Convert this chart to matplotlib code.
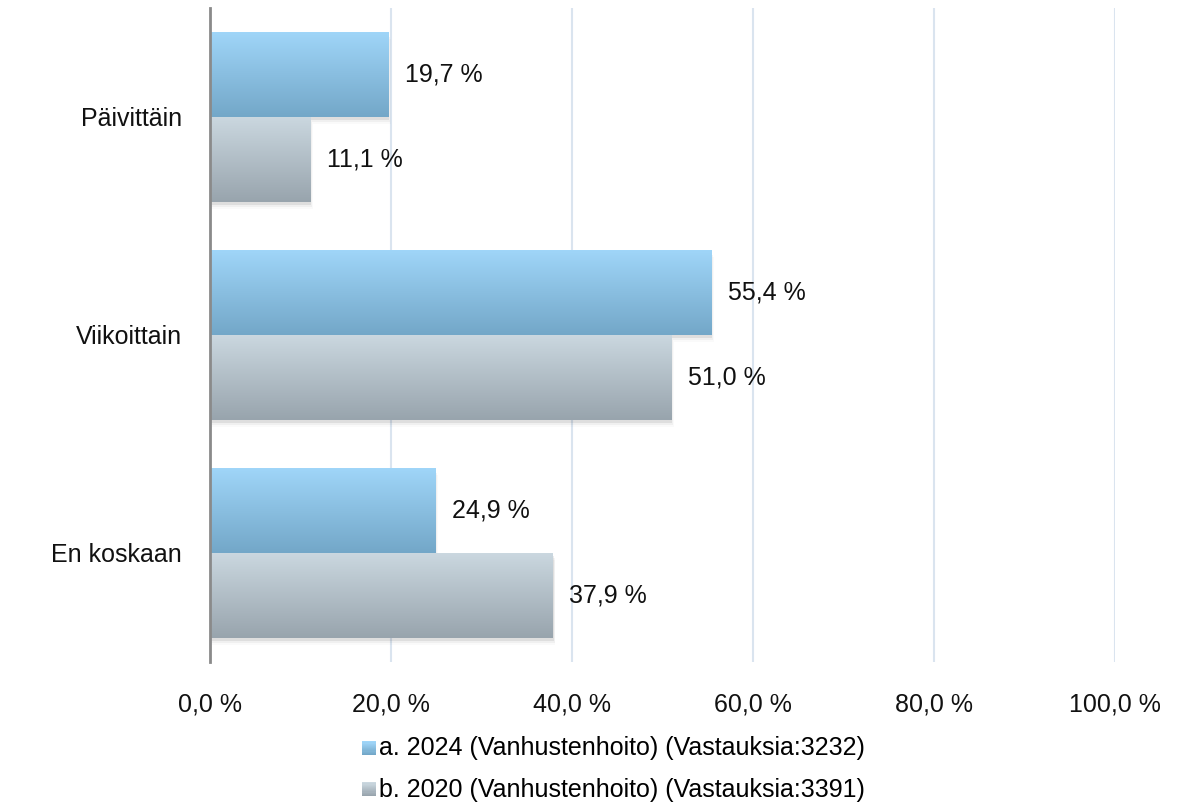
import numpy as np
import matplotlib.pyplot as plt
from matplotlib.colors import LinearSegmentedColormap, to_rgb
from matplotlib.patches import Rectangle
from matplotlib.legend_handler import HandlerPatch

plt.rcParams['font.family'] = ['Liberation Sans', 'DejaVu Sans']

categories = ['Päivittäin', 'Viikoittain', 'En koskaan']
series_names = ['a. 2024 (Vanhustenhoito) (Vastauksia:3232)',
                'b. 2020 (Vanhustenhoito) (Vastauksia:3391)']
values_2024 = [19.7, 55.4, 24.9]
values_2020 = [11.1, 51.0, 37.9]
xticks = [0, 20, 40, 60, 80, 100]

# gradient top -> bottom
grad_blue = ['#a0d6f9', '#73a7c8']
grad_gray = ['#cbd8e0', '#98a4ad']

FS = 18

fig = plt.figure(figsize=(11.99, 8.10), dpi=100)
ax = fig.add_axes([210/1199, 1-662/810, (1115-210)/1199, (662-8)/810])

y = np.arange(len(categories))
h = 0.39

def fmt(v):
    return ('%.1f' % v).replace('.', ',') + ' %'

def gradient_bars(bars, colors):
    cmap = LinearSegmentedColormap.from_list('g', colors)
    grad = np.linspace(0, 1, 256).reshape(-1, 1)
    for b in bars:
        x0, y0 = b.get_x(), b.get_y()
        w, hh = b.get_width(), b.get_height()
        # soft shadow, a few faint layers
        for k, a in [(0.012, 0.07), (0.022, 0.04), (0.032, 0.02)]:
            sh = Rectangle((x0, y0 + k), w + k * 8, hh, facecolor='#000000',
                           alpha=a, edgecolor='none', zorder=1.5)
            ax.add_patch(sh)
        b.set_facecolor('none')
        im = ax.imshow(grad, cmap=cmap, aspect='auto',
                       extent=[x0, x0 + w, y0 + hh, y0], zorder=2,
                       interpolation='bilinear')
        im.set_clip_path(b)

bars_a = ax.barh(y - h/2, values_2024, height=h, zorder=2, linewidth=0)
bars_b = ax.barh(y + h/2, values_2020, height=h, zorder=2, linewidth=0)
gradient_bars(bars_a, grad_blue)
gradient_bars(bars_b, grad_gray)

for yy, v in zip(y - h/2, values_2024):
    ax.text(v + 1.8, yy, fmt(v), va='center', ha='left', fontsize=FS, color='#111111')
for yy, v in zip(y + h/2, values_2020):
    ax.text(v + 1.8, yy, fmt(v), va='center', ha='left', fontsize=FS, color='#111111')

ax.set_xlim(0, 100)
ax.set_ylim(2.5, -0.5)
ax.set_xticks(xticks)
ax.set_xticklabels([fmt(t) for t in xticks], fontsize=FS)
ax.set_yticks(y)
ax.set_yticklabels(categories, fontsize=FS)
ax.tick_params(axis='both', length=0, colors='#111111')
ax.tick_params(axis='x', pad=22)
ax.tick_params(axis='y', pad=20)
ax.xaxis.grid(True, color='#dae4ef', linewidth=1.5, zorder=0)
ax.set_axisbelow(True)
for s in ['top', 'right', 'bottom']:
    ax.spines[s].set_visible(False)
ax.spines['left'].set_color('#8a8a8a')
ax.spines['left'].set_linewidth(2)
ax.spines['left'].set_zorder(3)


class GradHandler(HandlerPatch):
    def __init__(self, colors):
        super().__init__()
        self.colors = colors

    def create_artists(self, legend, orig_handle, xdescent, ydescent,
                       width, height, fontsize, trans):
        arts = []
        n = 12
        side = 10
        x0 = width - side
        y0 = (height - side) / 2 - 1
        c0 = np.array(to_rgb(self.colors[0]))
        c1 = np.array(to_rgb(self.colors[1]))
        for i in range(n):
            t = i / (n - 1)
            col = c0 * (1 - t) + c1 * t
            r = Rectangle((x0, y0 + side * (n - 1 - i) / n), side, side / n,
                          facecolor=col, edgecolor='none', transform=trans)
            arts.append(r)
        return arts

ha = Rectangle((0, 0), 1, 1)
hb = Rectangle((0, 0), 1, 1)
leg = fig.legend([ha, hb], series_names, loc='center',
                 bbox_to_anchor=(0.51, 1 - 769/810), ncol=1, frameon=False,
                 fontsize=FS, handlelength=0.7, handletextpad=0.1,
                 labelspacing=0.68,
                 handler_map={ha: GradHandler(grad_blue), hb: GradHandler(grad_gray)})

fig.savefig('out.png', dpi=100)
